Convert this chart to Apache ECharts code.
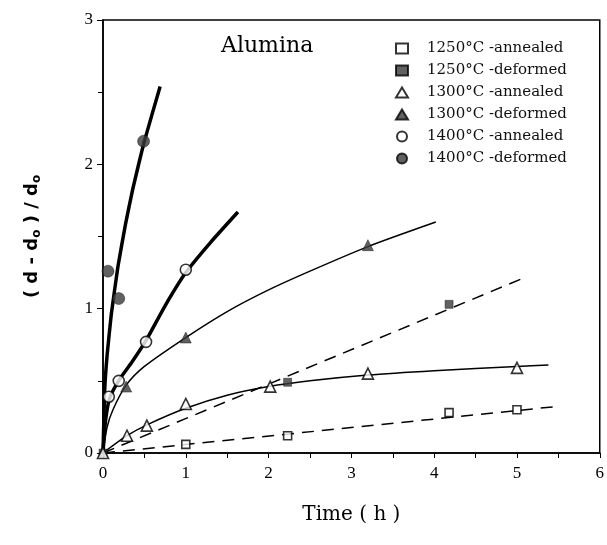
<!DOCTYPE html>
<html>
<head>
<meta charset="utf-8">
<script src="https://cdn.jsdelivr.net/npm/echarts@6/dist/echarts.min.js"></script>
<style>
  html, body { margin: 0; padding: 0; background: #fff; }
  #chart { width: 607px; height: 545px; }
</style>
</head>
<body>
<div id="chart"></div>
<script>
// measured points [time (h), (d-d0)/d0]
const a1250 = [[1.0, 0.06], [2.23, 0.12], [4.18, 0.28], [5.0, 0.30]];
const d1250 = [[0, 0], [2.23, 0.49], [4.18, 1.03]];
const a1300 = [[0, 0], [0.29, 0.12], [0.53, 0.19], [1.0, 0.34], [2.02, 0.46], [3.2, 0.55], [5.0, 0.59]];
const d1300 = [[0.28, 0.46], [1.0, 0.80], [3.2, 1.44]];
const a1400 = [[0.07, 0.39], [0.19, 0.50], [0.52, 0.77], [1.0, 1.27]];
const d1400 = [[0.06, 1.26], [0.19, 1.07], [0.49, 2.16]];

// fitted curves
const fitA1250 = [[0, 0], [5.44, 0.32]];
const fitD1250 = [[0, 0], [5.07, 1.21]];
const fitA1300 = [[0, 0], [0.29, 0.12], [0.55, 0.2], [1.0, 0.31], [1.5, 0.4], [2.0, 0.46], [2.5, 0.5], [3.2, 0.54], [4.0, 0.57], [5.0, 0.6], [5.38, 0.61]];
const fitD1300 = [[0, 0], [0.05, 0.18], [0.12, 0.3], [0.28, 0.47], [0.5, 0.6], [1.0, 0.8], [1.5, 0.98], [2.0, 1.13], [2.5, 1.26], [3.2, 1.43], [4.02, 1.6]];
const fitA1400 = [[0, 0], [0.03, 0.22], [0.08, 0.38], [0.2, 0.51], [0.35, 0.63], [0.52, 0.78], [0.75, 1.02], [1.0, 1.25], [1.3, 1.46], [1.63, 1.67]];
const fitD1400 = [[0, 0], [0.02, 0.43], [0.05, 0.68], [0.1, 0.96], [0.18, 1.29], [0.27, 1.58], [0.36, 1.83], [0.49, 2.14], [0.69, 2.54]];

const legendNames = ['1250°C -annealed', '1250°C -deformed', '1300°C -annealed', '1300°C -deformed', '1400°C -annealed', '1400°C -deformed'];

const chart = echarts.init(document.getElementById('chart'));

function fitLine(data, width, dashed, smooth) {
  return {
    type: 'line',
    data: data,
    showSymbol: false,
    smooth: smooth,
    silent: true,
    lineStyle: { color: '#000', width: width, type: dashed ? [12, 8] : 'solid' },
    z: 2
  };
}

function pts(name, data, symbol, size, filled) {
  return {
    name: name,
    type: 'scatter',
    data: data,
    symbol: symbol,
    symbolSize: size,
    itemStyle: filled
      ? { color: '#3a3a3a', borderColor: '#000', borderWidth: 0.5 }
      : { color: '#fff', borderColor: '#000', borderWidth: 1.6 },
    z: 5
  };
}

const option = {
  animation: false,
  backgroundColor: '#fff',
  title: {
    text: 'Alumina',
    left: 216,
    top: 30,
    textStyle: { fontFamily: 'DejaVu Serif', fontSize: 22, fontWeight: 'normal', color: '#000' }
  },
  legend: {
    orient: 'vertical',
    left: 390,
    top: 36,
    itemWidth: 12,
    itemHeight: 10,
    itemGap: 7,
    data: legendNames,
    textStyle: { fontFamily: 'DejaVu Serif', fontSize: 15, color: '#111', padding: [0, 0, 0, 14] }
  },
  grid: {
    left: 103, right: 4, top: 20, bottom: 92,
    show: true, borderColor: '#000', borderWidth: 1.5, backgroundColor: 'transparent'
  },
  xAxis: {
    type: 'value',
    min: 0, max: 6, interval: 1,
    name: 'Time ( h )',
    nameLocation: 'middle',
    nameGap: 52,
    nameTextStyle: { fontFamily: 'DejaVu Serif', fontSize: 20, color: '#000' },
    axisLine: { show: true, onZero: false, lineStyle: { color: '#000', width: 1.5 } },
    axisTick: { show: true, length: 5, lineStyle: { color: '#000' } },
    minorTick: { show: true, splitNumber: 2, length: 5, lineStyle: { color: '#000' } },
    axisLabel: { fontFamily: 'Liberation Serif', fontSize: 17, color: '#000', margin: 12 },
    splitLine: { show: false }
  },
  yAxis: {
    type: 'value',
    min: 0, max: 3, interval: 1,
    name: '( d - d{s|o} ) / d{s|o}',
    nameLocation: 'middle',
    nameGap: 60,
    nameTextStyle: {
      fontFamily: 'DejaVu Sans', fontSize: 18, fontWeight: 'bold', color: '#000',
      rich: { s: { fontFamily: 'DejaVu Sans', fontSize: 12, fontWeight: 'bold', verticalAlign: 'bottom', padding: [10, 0, 0, 0] } }
    },
    axisLine: { show: true, onZero: false, lineStyle: { color: '#000', width: 1.5 } },
    axisTick: { show: true, length: 6, lineStyle: { color: '#000' } },
    minorTick: { show: true, splitNumber: 2, length: 5, lineStyle: { color: '#000' } },
    axisLabel: { fontFamily: 'Liberation Serif', fontSize: 17, color: '#000', margin: 10 },
    splitLine: { show: false }
  },
  series: [
    fitLine(fitA1250, 1.5, true, false),
    fitLine(fitD1250, 1.5, true, false),
    fitLine(fitA1300, 1.5, false, 0.25),
    fitLine(fitD1300, 1.5, false, 0.25),
    fitLine(fitA1400, 3.5, false, 0.2),
    fitLine(fitD1400, 3.5, false, 0.12),
    pts(legendNames[0], a1250, 'rect', 8, false),
    pts(legendNames[1], d1250, 'rect', 8, true),
    pts(legendNames[2], a1300, 'triangle', 11, false),
    pts(legendNames[3], d1300, 'triangle', 11, true),
    pts(legendNames[4], a1400, 'circle', 11, false),
    pts(legendNames[5], d1400, 'circle', 12, true)
  ]
};

chart.setOption(option);
</script>
</body>
</html>
